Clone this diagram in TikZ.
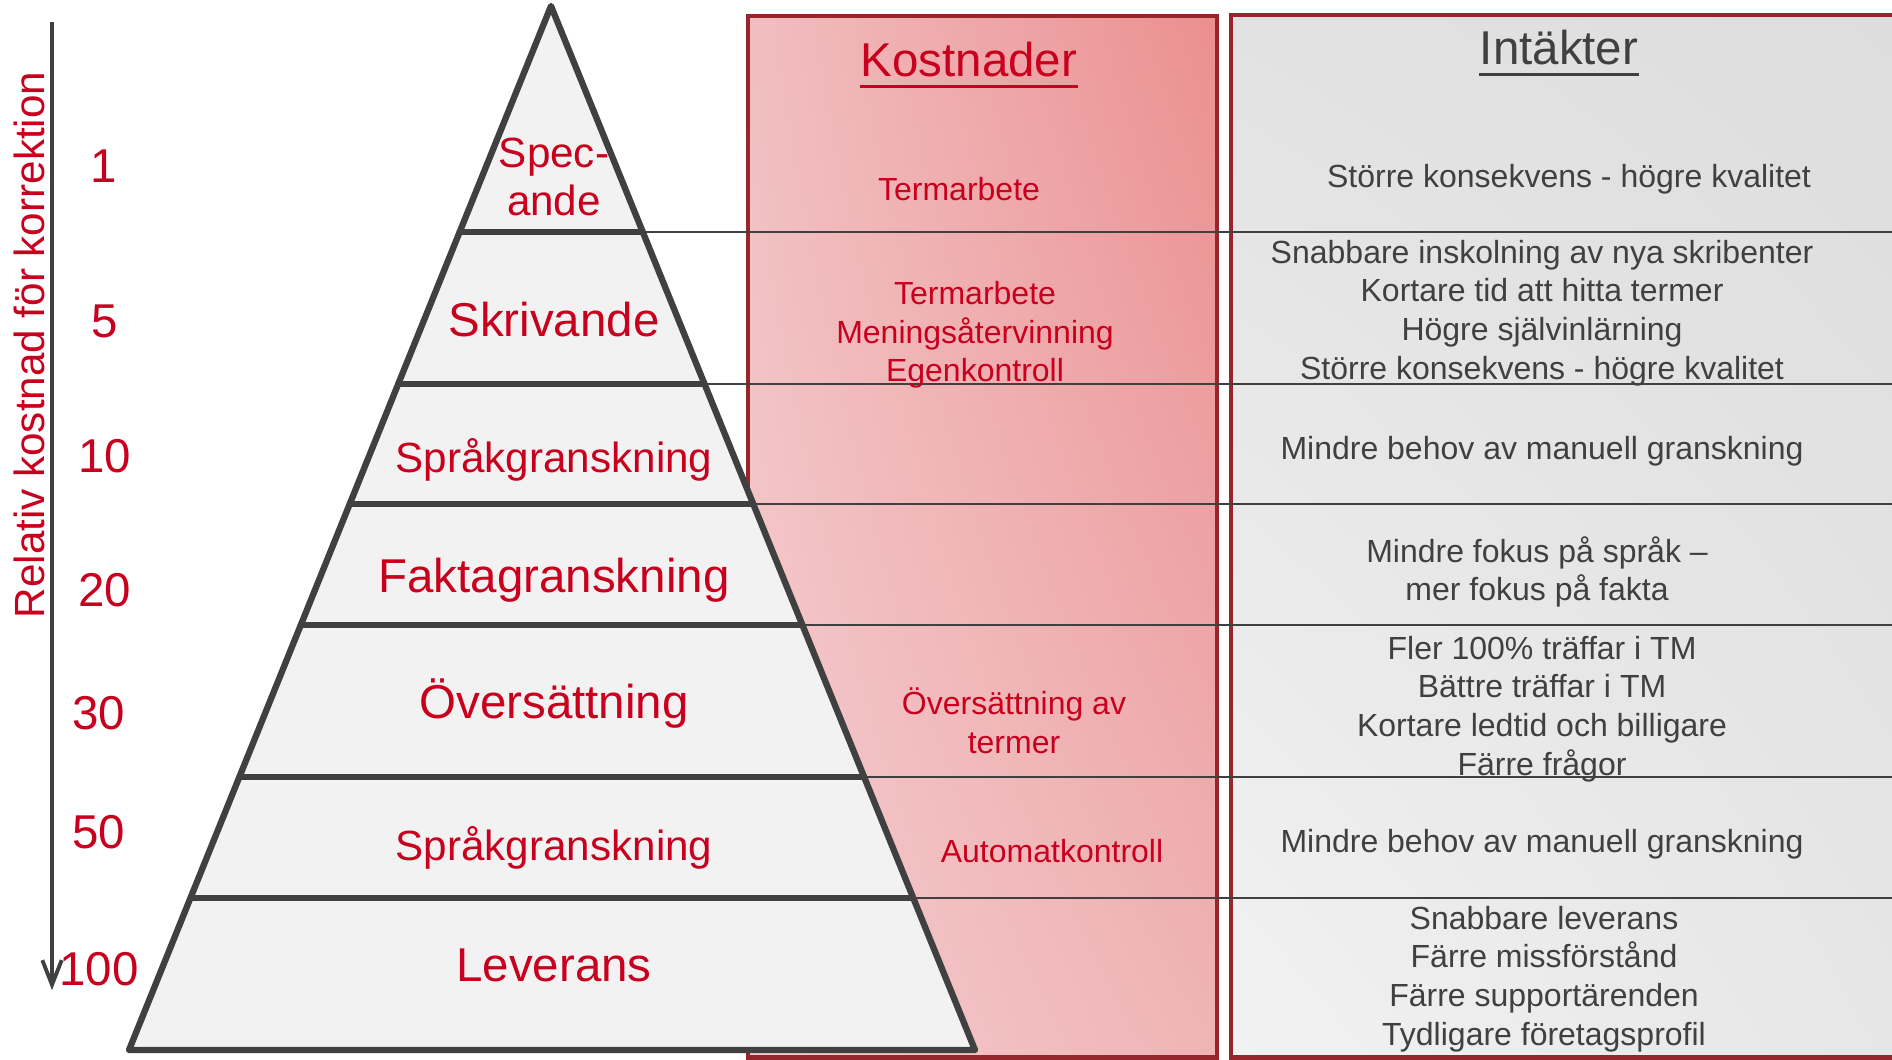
\documentclass[tikz,border=0pt]{standalone}
\usepackage{fontspec}
\setmainfont{Liberation Sans}
\usetikzlibrary{arrows.meta, calc, positioning, shadings}
\definecolor{textred}{RGB}{200,0,30}
\definecolor{darkgrey}{RGB}{64,64,64}
\definecolor{boxred}{RGB}{150,38,42}
\definecolor{pyrfill}{RGB}{242,242,242}
\definecolor{costul}{RGB}{241,190,192}
\definecolor{costur}{RGB}{235,143,144}
\definecolor{costll}{RGB}{245,205,207}
\definecolor{costlr}{RGB}{239,180,182}
\definecolor{gainul}{RGB}{226,226,226}
\definecolor{gainur}{RGB}{221,221,221}
\definecolor{gainll}{RGB}{242,242,242}
\definecolor{gainlr}{RGB}{230,230,230}

\begin{document}
\begin{tikzpicture}[x=0.01cm, y=-0.01cm,
    big/.style={font=\fontsize{13.5}{16}\selectfont},
    mid/.style={font=\fontsize{12}{14}\selectfont},
    small/.style={font=\fontsize{9.1}{11}\selectfont, align=center, inner sep=0pt},
    red text/.style={text=textred},
    grey text/.style={text=darkgrey},
    col box/.style={draw=boxred, line width=1.4pt},
    row line/.style={draw=darkgrey, line width=0.6pt},
    pyr/.style={draw=darkgrey, line width=1.8pt, line join=round, line cap=round}]
    \useasboundingbox (0,0) rectangle (1892,1059);
    \clip (0,0) rectangle (1892,1059);

    % Column boxes
    \draw[col box, upper left=costul, upper right=costur, lower left=costll, lower right=costlr]
        (748,16) rectangle (1217,1057);
    \draw[col box, upper left=gainul, upper right=gainur, lower left=gainll, lower right=gainlr]
        (1231,15) rectangle (1910,1057);

    % Pyramid corners and band borders
    \coordinate (top) at (551,6);
    \coordinate (bl) at (129,1050);
    \coordinate (br) at (975,1050);
    \coordinate (edge) at (1900,0);
    \foreach \t [count=\i] in {0.2165,0.3621,0.4770,0.5929,0.7385,0.8544} {
        \coordinate (l\i) at ($(top)!\t!(bl)$);
        \coordinate (r\i) at ($(top)!\t!(br)$);
        \draw[row line] (r\i) -- (r\i -| edge);
    }

    % Pyramid
    \filldraw[pyr, fill=pyrfill] (top) -- (br) -- (bl) -- cycle;
    \foreach \i in {1,...,6}
        \draw[pyr] (l\i) -- (r\i);

    % Cost axis
    \coordinate (axtop) at (52,22);
    \coordinate (axend) at (52,990);
    \draw[darkgrey, line width=1.1pt, -{Straight Barb[length=7pt, width=5.5pt]}] (axtop) -- (axend);
    \node[mid, red text, rotate=90] (axislbl) at (29,345) {Relativ kostnad för korrektion};
    \node[big, red text] (n1) at (104,166) {1};
    \node[big, red text] (n5) at (105,321) {5};
    \node[big, red text] (n10) at (105,456) {10};
    \node[big, red text] (n20) at (105,590) {20};
    \node[big, red text] (n30) at (99,713) {30};
    \node[big, red text] (n50) at (99,832) {50};
    \node[big, red text] (n100) at (99,969) {100};

    % Pyramid levels
    \node[mid, red text, align=center, font=\fontsize{12}{13.9}\selectfont] (spec) at (554,177) {Spec-\\ande};
    \node[big, red text] (skriv) at (554,320) {Skrivande};
    \node[mid, red text] (sprak1) at (554,460) {Språkgranskning};
    \node[big, red text] (fakta) at (554,580) {Faktagranskning};
    \node[big, red text] (overs) at (554,704) {Översättning};
    \node[mid, red text] (sprak2) at (554,848) {Språkgranskning};
    \node[big, red text] (lev) at (554,965) {Leverans};

    % Headings
    \node[big, red text, inner sep=0pt] (kost) at (969,60) {Kostnader};
    \draw[textred, line width=0.9pt] ([yshift=-2.6pt]kost.base west) -- ([yshift=-2.6pt]kost.base east);
    \node[big, grey text, inner sep=0pt] (intak) at (1559,48) {Intäkter};
    \draw[darkgrey, line width=0.9pt] ([yshift=-2.6pt]intak.base west) -- ([yshift=-2.6pt]intak.base east);

    % Costs
    \node[small, red text] (k1) at (959,189) {Termarbete};
    \node[small, red text] (k2) at (975,335) {Termarbete\\Meningsåtervinning\\Egenkontroll};
    \node[small, red text] (k5) at (1014,721) {Översättning av\\termer};
    \node[small, red text] (k6) at (1052,851) {Automatkontroll};

    % Gains
    \node[small, grey text] (i1) at (1569,179) {Större konsekvens - högre kvalitet};
    \node[small, grey text] (i2) at (1542,313) {Snabbare inskolning av nya skribenter\\Kortare tid att hitta termer\\Högre självinlärning\\Större konsekvens - högre kvalitet};
    \node[small, grey text] (i3) at (1542,451) {Mindre behov av manuell granskning};
    \node[small, grey text] (i4) at (1537,572) {Mindre fokus på språk –\\mer fokus på fakta};
    \node[small, grey text] (i5) at (1542,709) {Fler 100\% träffar i TM\\Bättre träffar i TM\\Kortare ledtid och billigare\\Färre frågor};
    \node[small, grey text] (i6) at (1542,844) {Mindre behov av manuell granskning};
    \node[small, grey text] (i7) at (1544,979) {Snabbare leverans\\Färre missförstånd\\Färre supportärenden\\Tydligare företagsprofil};
\end{tikzpicture}
\end{document}
